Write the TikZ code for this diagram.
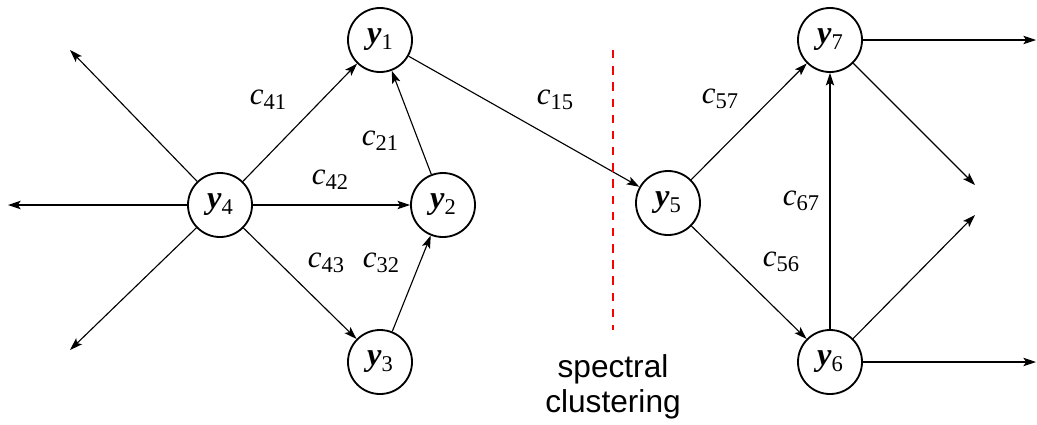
\documentclass[tikz,border=0pt]{standalone}
\usepackage{fontspec}
\setmainfont{Liberation Serif}
\newfontfamily\labelfont{Liberation Serif}
\newfontfamily\cutfont{Liberation Sans}
\usepackage{tikz}
\usetikzlibrary{arrows.meta, positioning}

\newcommand{\yv}[1]{{\bfseries\itshape y}\raisebox{-0.35ex}{\fontsize{16}{16}\selectfont #1}}
\newcommand{\cw}[1]{{\itshape c}\raisebox{-0.35ex}{\fontsize{16}{16}\selectfont #1}}

\begin{document}
\begin{tikzpicture}[
    x=0.025cm, y=-0.025cm,
    var/.style={draw, circle, line width=1.3pt, minimum size=1.6cm, inner sep=0pt, font=\labelfont\fontsize{23}{23}\selectfont},
    conn/.style={-{Stealth[length=9pt, width=6pt, inset=2pt]}, line width=0.8pt},
    lbl/.style={font=\labelfont\fontsize{22}{22}\selectfont, inner sep=0pt}
]
    \useasboundingbox (0,0) rectangle (1037,424);

    % left group
    \node[var] (y4) at (220,205) {\yv{4}};
    \node[var] (y1) at (380,40) {\yv{1}};
    \node[var] (y2) at (443,205) {\yv{2}};
    \node[var] (y3) at (380,362) {\yv{3}};

    % right group
    \node[var] (y5) at (668,203) {\yv{5}};
    \node[var] (y7) at (830,40) {\yv{7}};
    \node[var] (y6) at (830,362) {\yv{6}};

    % free ends
    \coordinate (ul) at (70,50);
    \coordinate (l) at (8,205);
    \coordinate (dl) at (70,350);
    \coordinate (r7) at (1036,40);
    \coordinate (m7) at (975,185);
    \coordinate (m6) at (975,215);
    \coordinate (r6) at (1036,362);

    \draw[conn] (y4) -- (ul);
    \draw[conn] (y4) -- (l);
    \draw[conn] (y4) -- (dl);

    \draw[conn] (y4) -- (y1);
    \draw[conn] (y4) -- (y2);
    \draw[conn] (y4) -- (y3);
    \draw[conn] (y3) -- (y2);
    \draw[conn] (y2) -- (y1);
    \draw[conn] (y1) -- (y5);
    \draw[conn] (y5) -- (y7);
    \draw[conn] (y5) -- (y6);
    \draw[conn] (y6) -- (y7);

    \draw[conn] (y7) -- (r7);
    \draw[conn] (y7) -- (m7);
    \draw[conn] (y6) -- (m6);
    \draw[conn] (y6) -- (r6);

    % weights
    \node[lbl] (c41) at (268,100) {\cw{41}};
    \node[lbl] (c42) at (330,180) {\cw{42}};
    \node[lbl] (c43) at (326,263) {\cw{43}};
    \node[lbl] (c32) at (381,263) {\cw{32}};
    \node[lbl] (c21) at (380,141) {\cw{21}};
    \node[lbl] (c15) at (555,100) {\cw{15}};
    \node[lbl] (c57) at (720,99) {\cw{57}};
    \node[lbl] (c56) at (781,262) {\cw{56}};
    \node[lbl] (c67) at (801,201) {\cw{67}};

    % cut
    \coordinate (cuttop) at (613,50);
    \coordinate (cutbot) at (613,330);
    \draw[red, line width=1.4pt, dash pattern=on 6pt off 5.5pt] (cuttop) -- (cutbot);
    \node[align=center, font=\cutfont\fontsize{22.5}{25}\selectfont] (cut) at (613,387) {spectral\\clustering};
\end{tikzpicture}
\end{document}
